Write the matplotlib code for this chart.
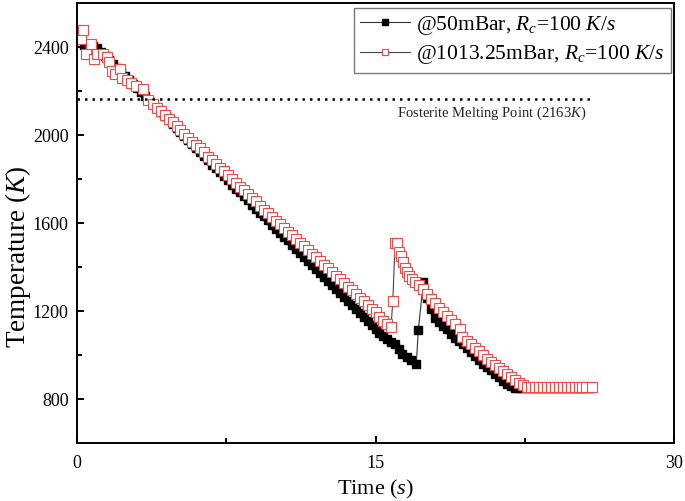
import matplotlib
matplotlib.use("Agg")
import matplotlib.pyplot as plt

plt.rcParams['font.family'] = 'Liberation Serif'
plt.rcParams['mathtext.fontset'] = 'custom'
plt.rcParams['mathtext.rm'] = 'Liberation Serif'
plt.rcParams['mathtext.it'] = 'Liberation Serif:italic'

# @50mBar series
t_50 = [0.15, 0.35, 0.55, 0.8, 1.0, 1.2, 1.4, 1.6, 1.8, 2.0, 2.2, 2.4, 2.6, 2.8, 3.0,
        3.2, 3.4, 3.6, 3.8, 4.0, 4.2, 4.4, 4.6, 4.8, 5.0, 5.2, 5.4, 5.6, 5.8, 6.0,
        6.2, 6.4, 6.6, 6.8, 7.0, 7.2, 7.4, 7.6, 7.8, 8.0, 8.2, 8.4, 8.6, 8.8, 9.0,
        9.2, 9.4, 9.6, 9.8, 10.0, 10.2, 10.4, 10.6, 10.8, 11.0, 11.2, 11.4, 11.6, 11.8, 12.0,
        12.2, 12.4, 12.6, 12.8, 13.0, 13.2, 13.4, 13.6, 13.8, 14.0, 14.2, 14.4, 14.6, 14.8, 15.0,
        15.2, 15.4, 15.6, 15.8, 16.0, 16.2, 16.35, 16.6, 16.8, 17.05, 17.15, 17.4, 17.6, 17.8, 18.0,
        18.2, 18.4, 18.6, 18.8, 19.0, 19.2, 19.4, 19.6, 19.8, 20.0, 20.2, 20.4, 20.6, 20.8, 21.0,
        21.2, 21.4, 21.6, 21.8, 22.0, 22.2, 22.4, 22.6, 22.8, 23.0, 23.2, 23.4, 23.6, 23.8, 24.0,
        24.2, 24.4, 24.6, 24.8, 25.0, 25.2, 25.4, 25.6, 25.8]
T_50 = [2452, 2412, 2410, 2405, 2395, 2377, 2360, 2340, 2322, 2305, 2286, 2268, 2250, 2231, 2214,
        2195, 2177, 2159, 2140, 2122, 2104, 2086, 2068, 2049, 2031, 2013, 1995, 1977, 1958, 1940,
        1922, 1904, 1886, 1867, 1849, 1831, 1813, 1795, 1776, 1758, 1740, 1722, 1704, 1685, 1667,
        1649, 1631, 1613, 1594, 1576, 1558, 1540, 1522, 1503, 1485, 1467, 1449, 1431, 1412, 1394,
        1376, 1358, 1340, 1321, 1303, 1285, 1267, 1249, 1230, 1212, 1194, 1176, 1158, 1139, 1121,
        1103, 1088, 1074, 1062, 1053, 1031, 1008, 993, 978, 963, 1114, 1333, 1262, 1210, 1172,
        1150, 1134, 1118, 1097, 1078, 1064, 1052, 1032, 1015, 998, 980, 963, 948, 932, 915,
        900, 886, 872, 860, 852, 852, 852, 852, 852, 852, 852, 852, 852, 852, 852,
        852, 852, 852, 852, 852, 852, 852, 852, 852]

# @1013.25mBar series
t_1013 = [0.19, 0.29, 0.45, 0.69, 0.85, 1.02, 1.29, 1.49, 1.62, 1.74, 1.91, 2.16, 2.24, 2.5, 2.7,
          2.96, 3.3, 3.58, 3.8, 4.0, 4.2, 4.4, 4.6, 4.8, 5.0, 5.2, 5.4, 5.6, 5.8, 6.0,
          6.2, 6.4, 6.6, 6.8, 7.0, 7.2, 7.4, 7.6, 7.8, 8.0, 8.2, 8.4, 8.6, 8.8, 9.0,
          9.2, 9.4, 9.6, 9.8, 10.0, 10.2, 10.4, 10.6, 10.8, 11.0, 11.2, 11.4, 11.6, 11.8, 12.0,
          12.2, 12.4, 12.6, 12.8, 13.0, 13.2, 13.4, 13.6, 13.8, 14.0, 14.2, 14.4, 14.6, 14.8, 15.0,
          15.2, 15.4, 15.6, 15.78, 15.87, 15.98, 16.1, 16.2, 16.3, 16.38, 16.48, 16.58, 16.7, 16.85, 17.0,
          17.2, 17.4, 17.6, 17.8, 18.0, 18.2, 18.4, 18.6, 18.8, 19.0, 19.25, 19.35, 19.6, 19.8, 20.0,
          20.2, 20.4, 20.6, 20.8, 21.0, 21.2, 21.4, 21.6, 21.8, 22.0, 22.2, 22.4, 22.6, 22.8, 23.0,
          23.2, 23.4, 23.6, 23.8, 24.0, 24.2, 24.4, 24.6, 24.8, 25.0, 25.2, 25.4, 25.6, 25.9]
T_1013 = [2435, 2477, 2371, 2414, 2344, 2371, 2371, 2353, 2332, 2292, 2280, 2299, 2258, 2250, 2238,
          2223, 2212, 2159, 2140, 2125, 2108, 2092, 2075, 2060, 2043, 2025, 2006, 1988, 1970, 1955,
          1940, 1922, 1903, 1886, 1870, 1853, 1836, 1818, 1801, 1784, 1767, 1750, 1733, 1716, 1699,
          1680, 1662, 1645, 1628, 1611, 1595, 1578, 1561, 1545, 1528, 1511, 1495, 1478, 1461, 1445,
          1428, 1411, 1395, 1378, 1362, 1345, 1328, 1312, 1295, 1278, 1262, 1245, 1228, 1212, 1196,
          1175, 1158, 1142, 1129, 1249, 1510, 1510, 1471, 1450, 1423, 1396, 1378, 1362, 1347, 1334,
          1318, 1302, 1280, 1258, 1236, 1215, 1197, 1179, 1161, 1143, 1121, 1084, 1066, 1050, 1034,
          1018, 1001, 985, 971, 957, 943, 929, 915, 900, 887, 875, 865, 858, 855, 855,
          855, 855, 855, 855, 855, 855, 855, 855, 855, 855, 855, 855, 855, 855]

melting_point = 2163

fig = plt.figure(figsize=(6.85, 5.01), dpi=100)
ax = fig.add_axes([0.1124, 0.1148, 0.8716, 0.879])

ax.plot(t_50, T_50, color='#333333', lw=0.8, marker='s', ms=5.5,
        mfc='black', mec='black', label='@50mBar, $R_c$=100 $K/s$')
ax.plot(t_1013, T_1013, color='#444444', lw=0.8, marker='s', ms=6.5,
        mfc='white', mec='#f24848', mew=0.8, label='@1013.25mBar, $R_c$=100 $K/s$')

ax.plot([0, 25.8], [melting_point, melting_point], color='black', lw=1.8, linestyle=(0, (1, 2)))
ax.text(20.85, 2098, 'Fosterite Melting Point (2163$K$)', fontsize=10.5, ha='center', va='center',
        color='#222222')

ax.set_xlim(0, 30)
ax.set_ylim(600, 2600)
ax.set_xticks([0, 15, 30])
ax.set_xticks([7.5, 22.5], minor=True)
ax.set_yticks([800, 1200, 1600, 2000, 2400])
ax.set_yticks([1000, 1400, 1800, 2200], minor=True)
ax.tick_params(which='both', direction='in', width=1.4, labelsize=13, top=False, right=False)
ax.tick_params(which='major', length=5)
ax.tick_params(which='minor', length=3.5)
ax.tick_params(axis='x', pad=8.5)
ax.tick_params(axis='y', pad=6)
for s in ax.spines.values():
    s.set_linewidth(1.4)

ax.set_xlabel('Time ($s$)', fontsize=16, labelpad=4)
ax.set_ylabel('Temperature ($K$)', fontsize=19.5)
ax.yaxis.set_label_coords(-0.074, 0.423)

leg = ax.legend(loc='upper right', bbox_to_anchor=(0.995, 0.99), borderaxespad=0, fontsize=15.5,
                fancybox=False, edgecolor='#777777', framealpha=1, handlelength=2.3,
                handletextpad=0.3, borderpad=0.3, labelspacing=0.3, markerscale=0.75)
leg.get_frame().set_linewidth(1.0)

plt.savefig("out.png")
plt.close()
